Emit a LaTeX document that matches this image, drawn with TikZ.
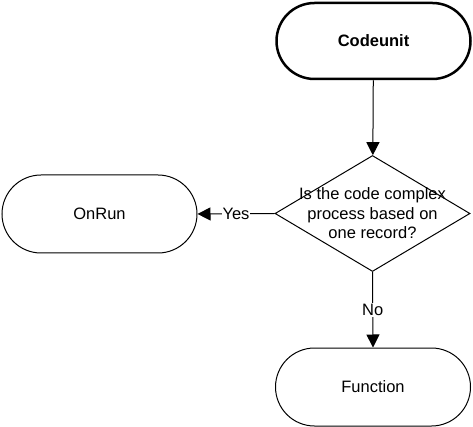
\documentclass[tikz,border=0pt]{standalone}
\usepackage{fontspec}
\setmainfont{Liberation Sans}
\usetikzlibrary{arrows.meta,shapes.geometric,shapes.misc}
\tikzset{
	terminal/.style={rounded rectangle, draw, line width=1pt, minimum width=195pt, minimum height=78pt, inner sep=0pt},
	decision/.style={diamond, draw, line width=1pt, minimum width=195pt, minimum height=116pt, inner sep=0pt},
	flow/.style={line width=1pt, -{Triangle[length=13pt,width=13pt]}},
	lbl/.style={fill=white, inner sep=1pt}
}

\begin{document}
\begin{tikzpicture}[x=1pt, y=-1pt, font=\fontsize{16.5}{19.5}\selectfont]
		%%%%% START %%%%%
		\useasboundingbox (0, 0) rectangle (473, 427);
		
		\node[terminal, line width=2.5pt, minimum width=194pt, minimum height=76pt, font=\fontsize{16.5}{19.5}\selectfont\bfseries] (codeunit) at (373.5, 41) {Codeunit};
		
		\node[decision] (question) at (372.5, 213.5) {};
		\node[align=center] (questiontext) at (question) {Is the code complex\\process based on\\one record?};
		
		\node[terminal] (onrun) at (99.5, 214) {OnRun};
		\node[terminal] (function) at (373, 387) {Function};
		
		\draw[flow] (codeunit) -- (question);
		\draw[flow] (question.west) -- node[lbl] (yes) {Yes} (onrun.east);
		\draw[flow] (question.south) -- node[lbl] (no) {No} (function.north);
		%%%%% END %%%%%
\end{tikzpicture}
\end{document}
